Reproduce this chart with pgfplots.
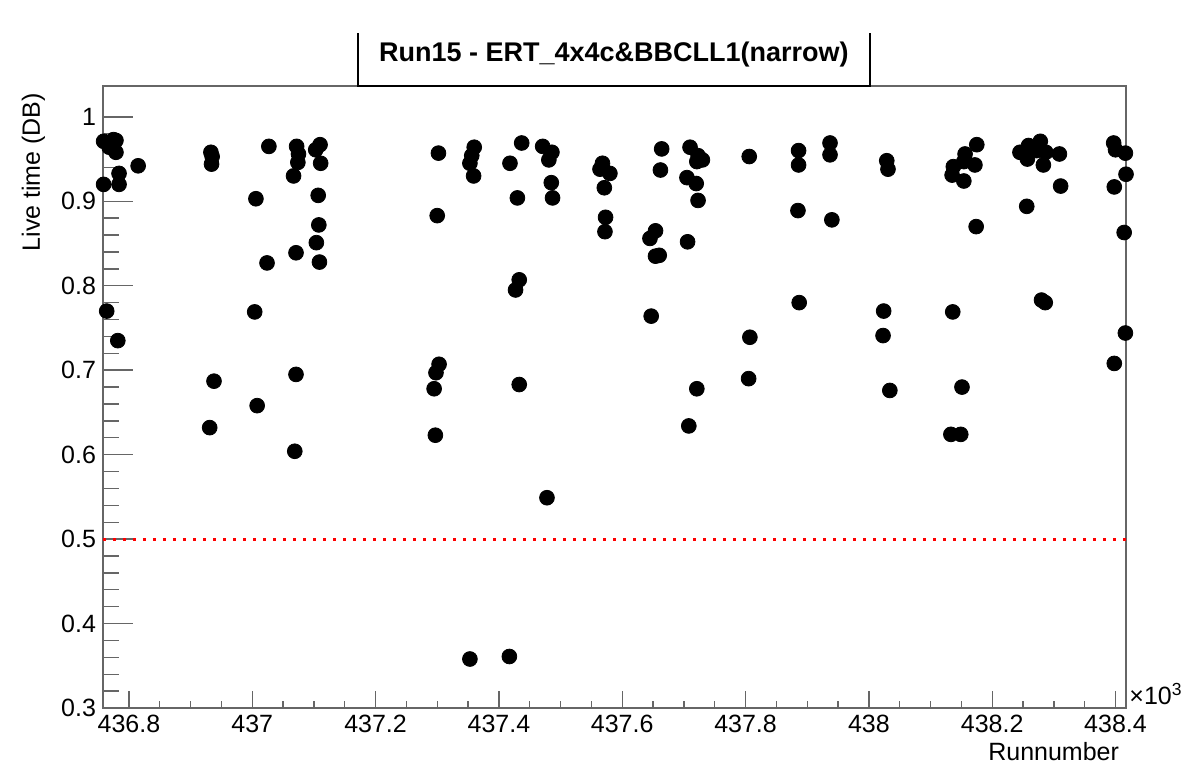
\documentclass[border=0pt]{standalone}
\usepackage{pgfplots}
\pgfplotsset{compat=1.18}
\usepackage{fontspec}
\setmainfont{Liberation Sans}
\setsansfont{Liberation Sans}

\definecolor{framegray}{gray}{0.4}

\begin{document}
\begin{tikzpicture}
% axis 1: frame and x ticks
\begin{axis}[
  scale only axis,
  width=511.5pt, height=311pt,
  xmin=436758, xmax=438417,
  ymin=0.3, ymax=1.0365,
  xtick={436800,437000,437200,437400,437600,437800,438000,438200,438400},
  xticklabels={436.8,437,437.2,437.4,437.6,437.8,438,438.2,438.4},
  scaled x ticks=false,
  minor x tick num=3,
  ytick=\empty,
  tick pos=left,
  tick align=inside,
  major tick length=8.5pt,
  minor tick length=3.5pt,
  every tick/.style={framegray, line width=0.7pt},
  axis line style={framegray, line width=0.8pt},
  tick label style={font=\fontsize{12.5}{14}\selectfont},
  /pgf/number format/assume math mode=true,
]
\end{axis}
% axis 2: y ticks and data
\begin{axis}[
  scale only axis,
  width=511.5pt, height=311pt,
  xmin=436758, xmax=438417,
  ymin=0.3, ymax=1.0365,
  xtick=\empty,
  scaled x ticks=false,
  ytick={0.3,0.4,0.5,0.6,0.7,0.8,0.9,1.0},
  yticklabels={0.3,0.4,0.5,0.6,0.7,0.8,0.9,1},
  minor y tick num=4,
  tick pos=left,
  tick align=inside,
  major tick length=15pt,
  minor tick length=8pt,
  every tick/.style={framegray, line width=0.7pt},
  axis line style={draw=none},
  tick label style={font=\fontsize{12.5}{14}\selectfont},
  /pgf/number format/assume math mode=true,
  clip=false,
]
\coordinate (sw) at (rel axis cs:0,0);
\coordinate (ne) at (rel axis cs:1,1);

% threshold line
\addplot[red, line width=1.5pt, dash pattern=on 1.6pt off 3.4pt]
  coordinates {(436758,0.5) (438417,0.5)};

% live time per run
\addplot[only marks, mark=*, mark size=3.7pt, black]
  coordinates{
    (436759,0.971) (436775,0.973) (436768,0.964) (436779,0.972) (436779,0.958)
    (436784,0.933) (436759,0.920) (436784,0.920) (436815,0.942) (436764,0.770)
    (436782,0.735)
    (436933,0.958) (436935,0.953) (436934,0.944) (436938,0.687) (436931,0.632)
    (437027,0.965) (437006,0.903) (437024,0.827) (437004,0.769) (437008,0.658)
    (437072,0.965) (437075,0.956) (437074,0.946) (437067,0.930) (437071,0.839)
    (437071,0.695) (437069,0.604)
    (437110,0.967) (437103,0.961) (437111,0.945) (437107,0.907) (437108,0.872)
    (437104,0.851) (437109,0.828)
    (437302,0.957) (437300,0.883) (437303,0.707) (437298,0.697) (437295,0.678)
    (437297,0.623)
    (437360,0.964) (437356,0.954) (437353,0.945) (437359,0.930) (437353,0.358)
    (437437,0.969) (437418,0.945) (437430,0.904) (437433,0.807) (437427,0.795)
    (437433,0.683) (437417,0.361)
    (437471,0.965) (437486,0.958) (437481,0.949) (437485,0.922) (437487,0.904)
    (437478,0.549)
    (437568,0.945) (437564,0.938) (437580,0.933) (437571,0.916) (437573,0.881)
    (437572,0.864)
    (437664,0.962) (437662,0.937) (437654,0.865) (437645,0.856) (437660,0.836)
    (437654,0.835) (437647,0.764)
    (437710,0.964) (437723,0.954) (437721,0.947) (437730,0.949) (437705,0.928)
    (437720,0.921) (437723,0.901) (437706,0.852) (437721,0.678) (437708,0.634)
    (437806,0.953) (437807,0.739) (437805,0.690)
    (437886,0.960) (437886,0.943) (437885,0.889) (437887,0.780)
    (437937,0.969) (437937,0.955) (437940,0.878)
    (438029,0.948) (438031,0.938) (438024,0.770) (438023,0.741) (438034,0.676)
    (438175,0.967) (438156,0.956) (438154,0.947) (438172,0.943) (438137,0.941)
    (438135,0.931) (438154,0.924) (438174,0.870) (438136,0.769) (438151,0.680)
    (438133,0.624) (438149,0.624)
    (438245,0.958) (438259,0.966) (438257,0.950) (438278,0.971) (438272,0.960)
    (438287,0.958) (438283,0.943) (438309,0.956) (438311,0.918) (438256,0.894)
    (438280,0.783) (438286,0.780)
    (438397,0.969) (438400,0.961) (438416,0.957) (438417,0.932) (438398,0.917)
    (438414,0.863) (438416,0.744) (438398,0.708)
  };

% title pave
\draw[black, line width=0.8pt] (rel axis cs:0.2493,1.085) -- (rel axis cs:0.2493,1.0)
  -- (rel axis cs:0.7498,1.0) -- (rel axis cs:0.7498,1.085);
\node[font=\bfseries\fontsize{13.5}{16}\selectfont] at (rel axis cs:0.4995,1.05)
  {Run15 - ERT\_4x4c\&BBCLL1(narrow)};

% axis titles
\node[rotate=90, anchor=east, font=\fontsize{12.5}{14}\selectfont]
  at (rel axis cs:-0.068,1.0) {Live time (DB)};
\node[anchor=east, font=\fontsize{12.5}{14}\selectfont]
  at (rel axis cs:1.0,-0.0707) {Runnumber};
\node[anchor=base west, inner sep=0pt, font=\fontsize{12.5}{14}\selectfont]
  at (rel axis cs:1.003,0.006) {×10\textsuperscript{3}};
\end{axis}
\pgfresetboundingbox
\path ([shift={(-51.5pt,-29.5pt)}]sw) rectangle ([shift={(31pt,43pt)}]ne);
\end{tikzpicture}
\end{document}
